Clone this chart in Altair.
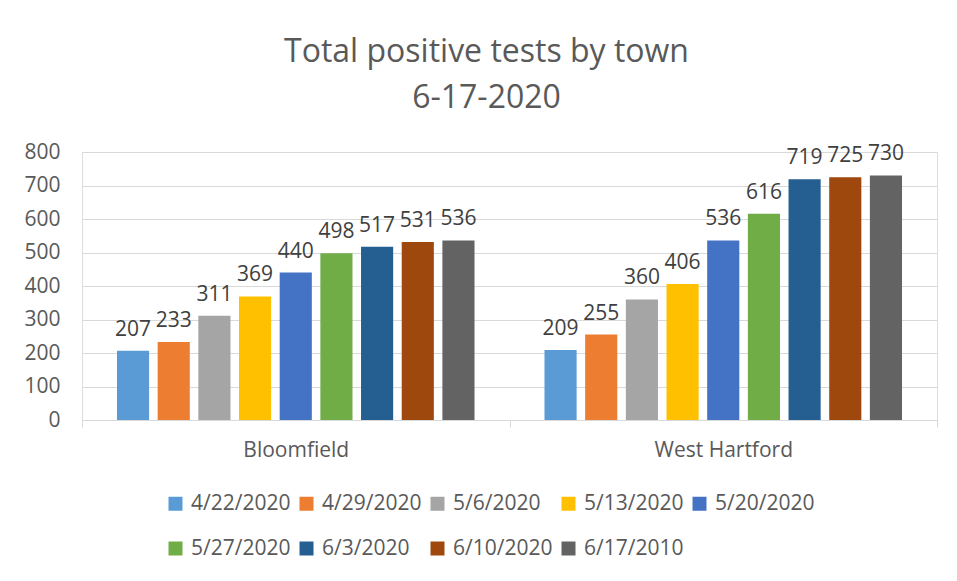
import altair as alt
import pandas as pd

towns = ["Bloomfield", "West Hartford"]
dates = ["4/22/2020", "4/29/2020", "5/6/2020", "5/13/2020", "5/20/2020",
         "5/27/2020", "6/3/2020", "6/10/2020", "6/17/2010"]
bloomfield = [207, 233, 311, 369, 440, 498, 517, 531, 536]
west_hartford = [209, 255, 360, 406, 536, 616, 719, 725, 730]
colors = ["#5B9BD5", "#ED7D31", "#A5A5A5", "#FFC000", "#4472C4",
          "#70AD47", "#255E91", "#9E480E", "#636363"]
y_ticks = [0, 100, 200, 300, 400, 500, 600, 700, 800]

rows = []
for town, vals in zip(towns, [bloomfield, west_hartford]):
    for d, v in zip(dates, vals):
        rows.append({"town": town, "date": d, "value": v})
df = pd.DataFrame(rows)

FONT = "Open Sans"
TXT = "#595959"

base = alt.Chart(df).encode(
    x=alt.X("town:N", sort=towns,
            scale=alt.Scale(paddingInner=0, paddingOuter=0),
            axis=alt.Axis(title=None, labelAngle=0, labelFontSize=21, labelColor=TXT,
                          labelFont=FONT, domainColor="#d9d9d9", tickColor="#d9d9d9",
                          tickBand="extent", tickSize=7, labelPadding=12)),
    xOffset=alt.XOffset("date:N", sort=dates,
                        scale=alt.Scale(paddingInner=0.21, paddingOuter=0.86)),
    y=alt.Y("value:Q", scale=alt.Scale(domain=[0, 800], nice=False),
            axis=alt.Axis(title=None, values=y_ticks, domain=False, labelOverlap=False,
                          ticks=False, gridColor="#d9d9d9", labelFontSize=21,
                          labelColor=TXT, labelFont=FONT, labelPadding=22)),
)

bars = base.mark_bar().encode(
    color=alt.Color("date:N", sort=dates,
                    scale=alt.Scale(domain=dates, range=colors),
                    legend=alt.Legend(title=None, orient="none", legendX=83, legendY=341,
                                      direction="horizontal", columns=5, columnPadding=5,
                                      rowPadding=23, symbolType="square", symbolSize=196,
                                      symbolStrokeWidth=0, labelFontSize=21, labelColor=TXT,
                                      labelFont=FONT, labelOffset=5, padding=0)),
)

labels = base.mark_text(baseline="alphabetic", dy=-15, fontSize=21, font=FONT,
                        color="#404040").encode(
    text=alt.Text("value:Q"),
)

chart = alt.layer(bars, labels).properties(
    width=855, height=268,
    autosize=alt.AutoSizeParams(type="none"),
    padding={"left": 74, "top": 144, "right": 10, "bottom": 145},
    title=alt.TitleParams(text=["Total positive tests by town", "6-17-2020"],
                          fontSize=32, font=FONT, color=TXT, fontWeight="normal",
                          lineHeight=46, anchor="middle", dx=-23, offset=26),
).configure_view(stroke=None).configure(background="white")

chart.save("out.html", embed_options={"renderer": "svg", "actions": False})
